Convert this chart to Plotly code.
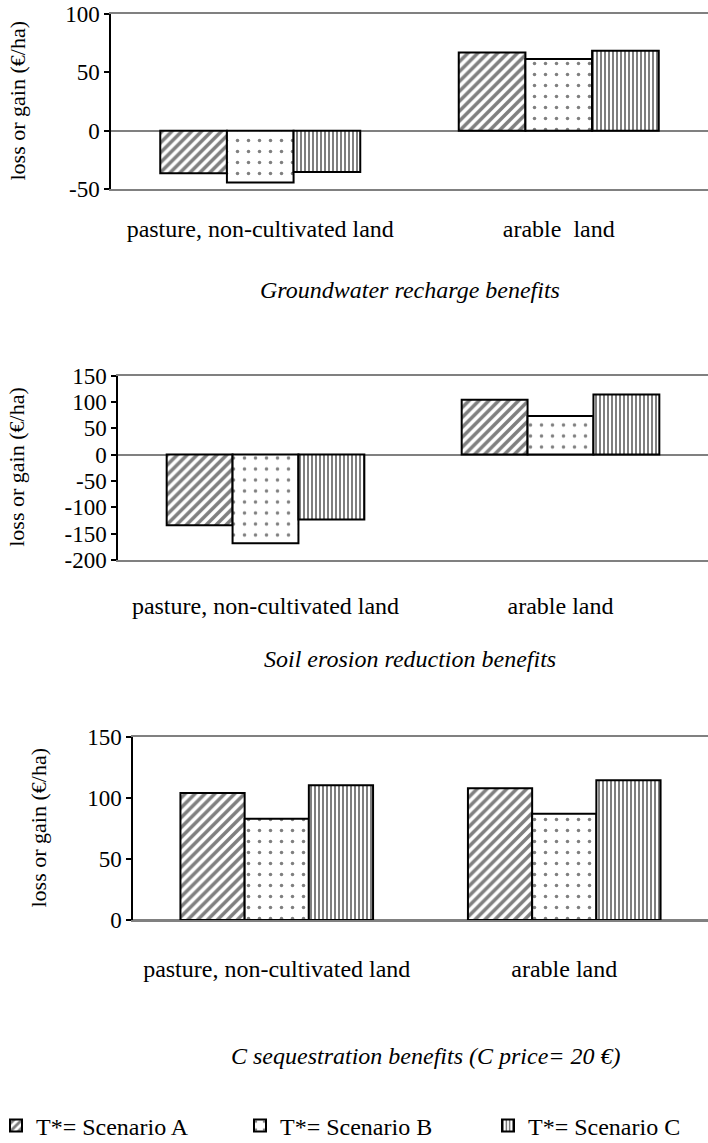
import plotly.graph_objects as go

# Data (€/ha)
categories_1 = ["pasture, non-cultivated land", "arable  land"]
categories_2 = ["pasture, non-cultivated land", "arable land"]
scenarios = ["T*= Scenario A", "T*= Scenario B", "T*= Scenario C"]

groundwater = {
    "T*= Scenario A": [-36.5, 67],
    "T*= Scenario B": [-44.5, 61.5],
    "T*= Scenario C": [-35.5, 68.5],
}
erosion = {
    "T*= Scenario A": [-134, 104],
    "T*= Scenario B": [-168, 73],
    "T*= Scenario C": [-123, 114],
}
carbon = {
    "T*= Scenario A": [104, 108],
    "T*= Scenario B": [83, 87],
    "T*= Scenario C": [110.5, 114.5],
}

# y tick values and their labels (plain hyphen for negatives)
ticks_1 = [-50, 0, 50, 100]
ticks_2 = [-200, -150, -100, -50, 0, 50, 100, 150]
ticks_3 = [0, 50, 100, 150]

titles = [
    "Groundwater recharge benefits",
    "Soil erosion reduction benefits",
    "C sequestration benefits (C price= 20 €)",
]

FONT = "Liberation Serif, Times New Roman, DejaVu Serif, serif"
FS = 24
W, H = 708, 1143

patterns = {
    "T*= Scenario A": dict(shape="/", size=7, solidity=0.5),
    "T*= Scenario B": dict(shape=".", size=11, solidity=0.08),
    "T*= Scenario C": dict(shape="|", size=4, solidity=0.5),
}

# panel geometry in pixels
panels = [
    dict(data=groundwater, cats=categories_1, ticks=ticks_1, left=111, top=14,
         bottom=189, yrange=[-50, 100], title_x=410, title_y=290,
         ytitle_x=17, standoff=17),
    dict(data=erosion, cats=categories_2, ticks=ticks_2, left=118, top=375.5,
         bottom=560, yrange=[-200, 150], title_x=410, title_y=659,
         ytitle_x=17, standoff=23),
    dict(data=carbon, cats=categories_2, ticks=ticks_3, left=133, top=737,
         bottom=920, yrange=[0, 150], title_x=425, title_y=1056,
         ytitle_x=38, standoff=26),
]

# legend entry positions (left edge in px)
legend_x = [-4, 240, 488]

fig = go.Figure()
layout = {}
annotations = []
for i, p in enumerate(panels):
    n = "" if i == 0 else str(i + 1)
    xa, ya = "x" + n, "y" + n
    for k, s in enumerate(scenarios):
        fig.add_trace(go.Bar(
            x=p["cats"], y=p["data"][s], name=s, xaxis=xa, yaxis=ya,
            showlegend=(i == 0), legend="legend" if k == 0 else f"legend{k + 1}",
            marker=dict(color="white", line=dict(color="black", width=2),
                        pattern=dict(fgcolor="black", bgcolor="white",
                                     fillmode="overlay", **patterns[s])),
        ))
    layout["xaxis" + n] = dict(
        domain=[p["left"] / W, 1.0], anchor=ya, type="category",
        showline=True, linecolor="#808080", linewidth=1.5, mirror=True,
        showgrid=False, ticks="", ticklabelstandoff=p["standoff"],
        tickfont=dict(family=FONT, size=FS, color="black"),
    )
    layout["yaxis" + n] = dict(
        domain=[1 - p["bottom"] / H, 1 - p["top"] / H], anchor=xa,
        range=p["yrange"], tickmode="array", tickvals=p["ticks"],
        ticktext=[str(t) for t in p["ticks"]], showgrid=False,
        zeroline=True, zerolinecolor="#808080", zerolinewidth=1.5,
        showline=True, linecolor="black", linewidth=1.5,
        ticks="outside", ticklen=5, tickcolor="black", tickwidth=1.5,
        tickfont=dict(family=FONT, size=23, color="black"),
    )
    annotations.append(dict(
        text="loss or gain (€/ha)", textangle=-90, xref="paper", yref="paper",
        x=p["ytitle_x"] / W, y=1 - (p["top"] + p["bottom"]) / 2 / H,
        showarrow=False, font=dict(family=FONT, size=22, color="black"),
        xanchor="center", yanchor="middle",
    ))
    annotations.append(dict(
        text="<i>" + titles[i] + "</i>", xref="paper", yref="paper",
        x=p["title_x"] / W, y=1 - p["title_y"] / H, showarrow=False,
        font=dict(family=FONT, size=FS, color="black"),
        xanchor="center", yanchor="middle",
    ))

for k in range(3):
    key = "legend" if k == 0 else f"legend{k + 1}"
    layout[key] = dict(
        orientation="h", x=legend_x[k] / W, y=1 - 1126 / H,
        xanchor="left", yanchor="middle", itemwidth=30,
        bgcolor="rgba(0,0,0,0)",
        font=dict(family=FONT, size=FS, color="black"),
    )

fig.update_layout(
    width=W, height=H, margin=dict(l=0, r=0, t=0, b=0, autoexpand=False),
    paper_bgcolor="white", plot_bgcolor="white",
    barmode="group", bargap=0.33, bargroupgap=0,
    annotations=annotations,
    **layout,
)

fig.write_html("out.html")
